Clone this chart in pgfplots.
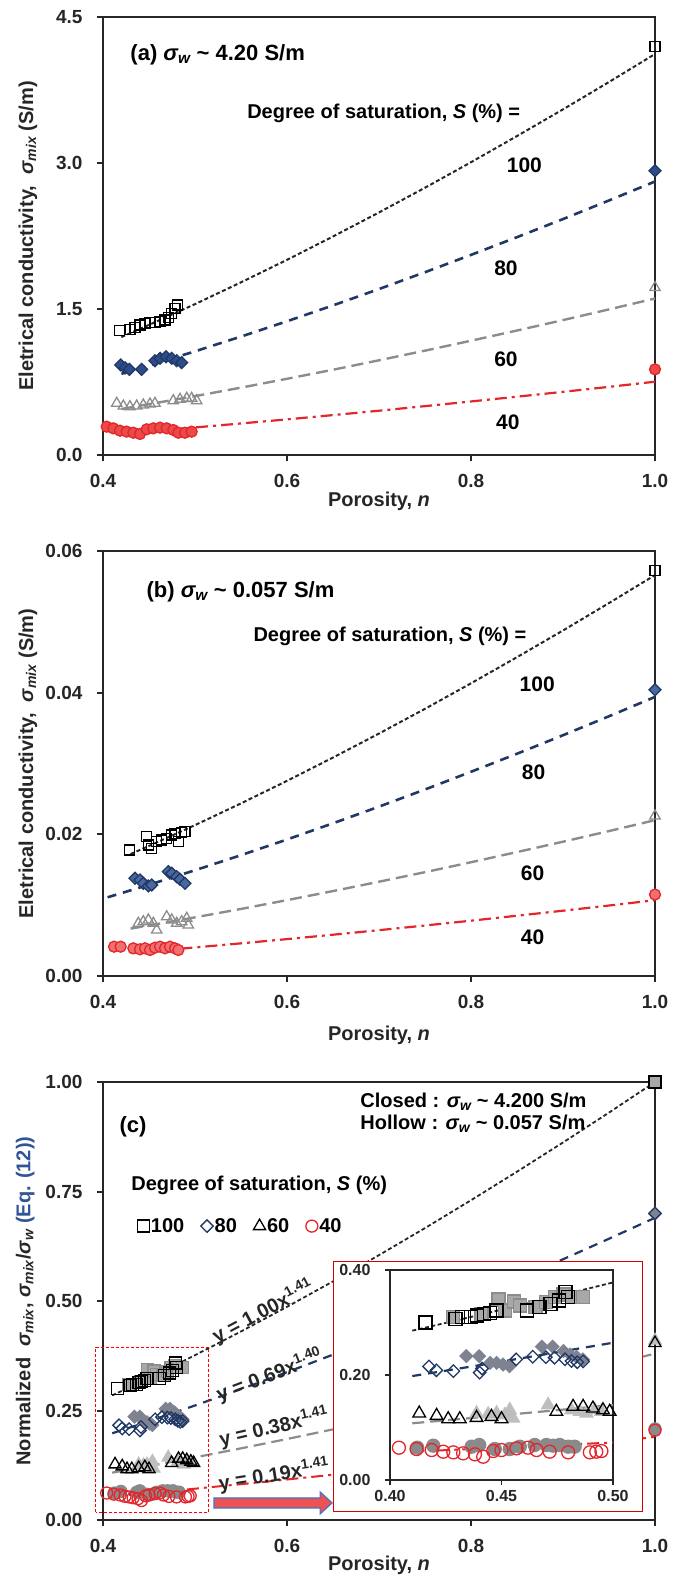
\documentclass[border=0pt]{standalone}
\usepackage{fontspec}
\setmainfont{Liberation Sans Bold}[ItalicFont={Liberation Sans Bold Italic},BoldFont={Liberation Sans Bold},BoldItalicFont={Liberation Sans Bold Italic}]
\usepackage{pgfplots}
\usepackage{pgfplotstable}
\pgfplotsset{compat=1.18}

\definecolor{axiscol}{HTML}{262626}
\definecolor{navy}{HTML}{1F3864}
\definecolor{navyfill}{HTML}{2F4C8A}
\definecolor{navylight}{HTML}{4A68A0}
\definecolor{grayline}{HTML}{8C8C8C}
\definecolor{redline}{HTML}{E3262B}
\definecolor{redfill}{HTML}{EC4A4A}
\definecolor{redlight}{HTML}{F07070}
\definecolor{closedsq}{HTML}{A8A8A8}
\definecolor{closeddia}{HTML}{7F8290}
\definecolor{closedtri}{HTML}{BEBEBE}
\definecolor{closedcirc}{HTML}{8A8A8A}
\definecolor{arrowred}{HTML}{EE5252}
\definecolor{arrowblue}{HTML}{4472C4}
\definecolor{eqblue}{HTML}{2F5597}

\newcommand{\sig}[1]{{\itshape σ\textsubscript{#1}}}

% ---------- (a) sigma_w ~ 4.20 S/m ----------
\pgfplotstableread{
n s
0.4177 1.277
0.4293 1.291
0.4348 1.312
0.4402 1.336
0.4457 1.353
0.4511 1.360
0.4565 1.360
0.4620 1.370
0.4674 1.387
0.4710 1.415
0.4747 1.456
0.4783 1.507
0.4808 1.541
1.0000 4.200
}\aHundred
\pgfplotstableread{
n s
0.4192 0.925
0.4240 0.895
0.4286 0.880
0.4420 0.880
0.4565 0.969
0.4620 0.993
0.4685 1.010
0.4747 0.993
0.4801 0.969
0.4855 0.949
1.0000 2.920
}\aEighty
\pgfplotstableread{
n s
0.4149 0.531
0.4221 0.503
0.4293 0.497
0.4366 0.503
0.4438 0.514
0.4511 0.524
0.4565 0.531
0.4764 0.558
0.4837 0.572
0.4910 0.582
0.4964 0.582
0.5018 0.558
1.0000 1.720
}\aSixty
\pgfplotstableread{
n s
0.4040 0.291
0.4112 0.274
0.4185 0.250
0.4257 0.240
0.4330 0.229
0.4402 0.216
0.4475 0.264
0.4547 0.274
0.4620 0.281
0.4692 0.274
0.4764 0.257
0.4819 0.229
0.4891 0.229
0.4964 0.240
1.0000 0.880
}\aForty
\pgfplotstableread{
n s
0.42 1.212
0.45 1.337
0.50 1.550
0.55 1.774
0.60 2.005
0.65 2.245
0.70 2.492
0.75 2.746
0.80 3.008
0.85 3.277
0.90 3.551
0.95 3.832
1.00 4.120
}\aFitHundred
\pgfplotstableread{
n s
0.42 0.834
0.45 0.919
0.50 1.065
0.55 1.217
0.60 1.374
0.65 1.537
0.70 1.705
0.75 1.878
0.80 2.056
0.85 2.238
0.90 2.424
0.95 2.615
1.00 2.810
}\aFitEighty
\pgfplotstableread{
n s
0.42 0.473
0.45 0.522
0.50 0.605
0.55 0.692
0.60 0.783
0.65 0.876
0.70 0.973
0.75 1.072
0.80 1.174
0.85 1.279
0.90 1.386
0.95 1.496
1.00 1.608
}\aFitSixty
\pgfplotstableread{
n s
0.42 0.222
0.45 0.244
0.50 0.283
0.55 0.324
0.60 0.366
0.65 0.410
0.70 0.455
0.75 0.502
0.80 0.550
0.85 0.599
0.90 0.649
0.95 0.700
1.00 0.753
}\aFitForty

% ---------- (b) sigma_w ~ 0.057 S/m ----------
\pgfplotstableread{
n s
0.4286 0.01779
0.4475 0.01967
0.4493 0.01849
0.4529 0.01802
0.4584 0.01896
0.4638 0.01920
0.4692 0.01944
0.4747 0.01991
0.4783 0.02014
0.4819 0.01896
0.4855 0.02024
0.4891 0.02038
1.0000 0.05720
}\bHundred
\pgfplotstableread{
n s
0.4348 0.01379
0.4402 0.01355
0.4438 0.01308
0.4493 0.01271
0.4529 0.01285
0.4710 0.01473
0.4747 0.01450
0.4801 0.01402
0.4837 0.01365
0.4891 0.01308
1.0000 0.04040
}\bEighty
\pgfplotstableread{
n s
0.4384 0.00744
0.4438 0.00767
0.4493 0.00791
0.4547 0.00744
0.4584 0.00649
0.4692 0.00837
0.4747 0.00791
0.4801 0.00744
0.4855 0.00767
0.4910 0.00814
0.4927 0.00720
1.0000 0.02260
}\bSixty
\pgfplotstableread{
n s
0.4120 0.00414
0.4192 0.00414
0.4330 0.00391
0.4402 0.00377
0.4457 0.00391
0.4511 0.00367
0.4565 0.00400
0.4620 0.00414
0.4674 0.00391
0.4728 0.00414
0.4783 0.00391
0.4819 0.00367
1.0000 0.01150
}\bForty
\pgfplotstableread{
n s
0.43 0.01722
0.45 0.01836
0.50 0.02130
0.55 0.02437
0.60 0.02755
0.65 0.03084
0.70 0.03423
0.75 0.03772
0.80 0.04132
0.85 0.04501
0.90 0.04878
0.95 0.05265
1.00 0.05660
}\bFitHundred
\pgfplotstableread{
n s
0.405 0.01111
0.45 0.01288
0.50 0.01493
0.55 0.01706
0.60 0.01927
0.65 0.02156
0.70 0.02391
0.75 0.02633
0.80 0.02883
0.85 0.03138
0.90 0.03399
0.95 0.03667
1.00 0.03940
}\bFitEighty
\pgfplotstableread{
n s
0.43 0.00669
0.45 0.00714
0.50 0.00828
0.55 0.00947
0.60 0.01071
0.65 0.01199
0.70 0.01331
0.75 0.01466
0.80 0.01606
0.85 0.01750
0.90 0.01896
0.95 0.02046
1.00 0.02200
}\bFitSixty
\pgfplotstableread{
n s
0.43 0.00325
0.45 0.00347
0.50 0.00403
0.55 0.00461
0.60 0.00521
0.65 0.00583
0.70 0.00647
0.75 0.00713
0.80 0.00781
0.85 0.00851
0.90 0.00922
0.95 0.00995
1.00 0.01070
}\bFitForty

% ---------- (c) normalized, closed = 4.200 S/m, hollow = 0.057 S/m ----------
\pgfplotstableread{
n s
0.4284 0.3100
0.4410 0.3164
0.4487 0.3441
0.4516 0.3228
0.4555 0.3402
0.4584 0.3325
0.4652 0.3293
0.4700 0.3389
0.4739 0.3486
0.4778 0.3531
0.4816 0.3486
0.4865 0.3486
1.0000 1.0000
}\cHundredClosed
\pgfplotstableread{
n s
0.4159 0.3003
0.4294 0.3068
0.4323 0.3100
0.4362 0.3100
0.4391 0.3132
0.4420 0.3164
0.4449 0.3183
0.4478 0.3228
0.4613 0.3228
0.4671 0.3293
0.4720 0.3357
0.4758 0.3421
0.4787 0.3582
0.4797 0.3486
1.0000 1.0000
}\cHundredOpen
\pgfplotstableread{
n s
0.4342 0.2360
0.4400 0.2360
0.4449 0.2232
0.4478 0.2232
0.4507 0.2199
0.4536 0.2167
0.4681 0.2540
0.4729 0.2540
0.4778 0.2457
0.4807 0.2392
0.4836 0.2347
0.4865 0.2296
1.0000 0.7000
}\cEightyClosed
\pgfplotstableread{
n s
0.4175 0.2163
0.4208 0.2090
0.4284 0.2074
0.4402 0.2045
0.4413 0.2124
0.4566 0.2298
0.4640 0.2348
0.4699 0.2339
0.4738 0.2329
0.4785 0.2300
0.4814 0.2266
0.4840 0.2243
0.4866 0.2259
1.0000 0.7000
}\cEightyOpen
\pgfplotstableread{
n s
0.4388 0.1270
0.4440 0.1251
0.4478 0.1270
0.4515 0.1238
0.4537 0.1333
0.4552 0.1175
0.4709 0.1429
0.4813 0.1333
0.4851 0.1302
0.4881 0.1270
0.4918 0.1333
0.4948 0.1302
1.0000 0.4100
}\cSixtyClosed
\pgfplotstableread{
n s
0.4131 0.1270
0.4209 0.1225
0.4261 0.1162
0.4313 0.1162
0.4388 0.1187
0.4455 0.1206
0.4500 0.1162
0.4746 0.1302
0.4821 0.1397
0.4866 0.1397
0.4910 0.1365
0.4955 0.1333
0.4985 0.1302
1.0000 0.4040
}\cSixtyOpen
\pgfplotstableread{
n s
0.4122 0.0616
0.4194 0.0654
0.4366 0.0635
0.4400 0.0667
0.4470 0.0590
0.4537 0.0590
0.4582 0.0635
0.4649 0.0667
0.4701 0.0667
0.4731 0.0654
0.4761 0.0667
0.4799 0.0635
0.4828 0.0635
1.0000 0.2080
}\cFortyClosed
\pgfplotstableread{
n s
0.4040 0.0616
0.4119 0.0590
0.4187 0.0571
0.4239 0.0540
0.4284 0.0527
0.4328 0.0508
0.4381 0.0489
0.4418 0.0444
0.4463 0.0552
0.4500 0.0571
0.4567 0.0603
0.4619 0.0616
0.4657 0.0571
0.4716 0.0540
0.4799 0.0527
0.4896 0.0527
0.4925 0.0540
0.4948 0.0552
1.0000 0.2050
}\cFortyOpen
\pgfplotstableread{
n s
0.41 0.2845
0.43 0.3042
0.45 0.3244
0.47 0.3449
0.50 0.3763
0.55 0.4305
0.60 0.4867
0.65 0.5448
0.70 0.6048
0.75 0.6665
0.80 0.7301
0.85 0.7953
0.90 0.8619
0.95 0.9302
1.00 1.0000
}\cFitHundred
\pgfplotstableread{
n s
0.41 0.1980
0.43 0.2117
0.45 0.2256
0.47 0.2398
0.50 0.2615
0.55 0.2988
0.60 0.3375
0.65 0.3775
0.70 0.4188
0.75 0.4612
0.80 0.5049
0.85 0.5496
0.90 0.5953
0.95 0.6422
1.00 0.6900
}\cFitEighty
\pgfplotstableread{
n s
0.41 0.1081
0.43 0.1156
0.45 0.1233
0.47 0.1311
0.50 0.1430
0.55 0.1636
0.60 0.1849
0.65 0.2070
0.70 0.2298
0.75 0.2533
0.80 0.2774
0.85 0.3022
0.90 0.3275
0.95 0.3535
1.00 0.3800
}\cFitSixty
\pgfplotstableread{
n s
0.41 0.0541
0.43 0.0578
0.45 0.0616
0.47 0.0655
0.50 0.0715
0.55 0.0818
0.60 0.0925
0.65 0.1035
0.70 0.1149
0.75 0.1266
0.80 0.1387
0.85 0.1511
0.90 0.1638
0.95 0.1767
1.00 0.1900
}\cFitForty

\pgfplotsset{
  panel/.style={
    scale only axis, width=552pt, clip=false,
    xmin=0.4, xmax=1.0, xtick={0.4,0.6,0.8,1.0},
    scaled x ticks=false, scaled y ticks=false,
    axis line style={line width=2.4pt, axiscol},
    major tick style={line width=2pt, axiscol},
    major tick length=6pt, tick align=outside,
    xtick pos=left, ytick pos=left,
    /pgf/number format/assume math mode=true,
    tick label style={font=\fontsize{19}{19}\selectfont, text=axiscol},
    xticklabel style={/pgf/number format/fixed, /pgf/number format/fixed zerofill, /pgf/number format/precision=1, yshift=-10pt},
    yticklabel style={xshift=-11pt},
    label style={font=\fontsize{20}{22}\selectfont, text=axiscol},
    xlabel={Porosity, {\itshape n}},
    ylabel style={anchor=center, at={(axis description cs:-0.136,0.5)}},
  },
  legmark/.style={legend image code/.code={\draw[mark repeat=2,mark phase=2,##1] plot coordinates {(0pt,0pt) (7pt,0pt) (14pt,0pt)};}},
  fit100/.style={axiscol, line width=2pt, dash pattern=on 4pt off 2.5pt, forget plot},
  fit80/.style={navy, line width=2.6pt, dash pattern=on 9pt off 7pt, forget plot},
  fit60/.style={grayline, line width=2.4pt, dash pattern=on 12pt off 6pt, forget plot},
  fit40/.style={redline, line width=2.2pt, dash pattern=on 12pt off 5pt on 3pt off 5pt, forget plot},
  % open (unfilled) markers: size, colour
  osq/.style 2 args={only marks, legmark, mark=square, mark size=#1, mark options={solid, draw=#2, line width=1.3pt}},
  odia/.style 2 args={only marks, legmark, mark=square, mark size=#1, mark options={solid, rotate=45, draw=#2, line width=1.3pt}},
  otri/.style 2 args={only marks, legmark, mark=triangle, mark size=#1, mark options={solid, draw=#2, line width=1.3pt}},
  ocirc/.style 2 args={only marks, legmark, mark=o, mark size=#1, mark options={solid, draw=#2, line width=1.3pt}},
  % filled markers: mark, size, fill, edge
  fmark/.style n args={4}{only marks, legmark, mark=#1, mark size=#2, mark options={solid, fill=#3, draw=#4, line width=1.3pt}},
  fdia/.style n args={3}{only marks, legmark, mark=square*, mark size=#1, mark options={solid, rotate=45, fill=#2, draw=#3, line width=1.3pt}},
}

\begin{document}
\begin{tikzpicture}
\useasboundingbox (0,0) rectangle (681pt,-1578pt);

% ===== panel (a) =====
\begin{axis}[panel, at={(103pt,-17pt)}, anchor=north west, height=438pt,
  ymin=0, ymax=4.5, ytick={0,1.5,3,4.5},
  yticklabel style={/pgf/number format/fixed, /pgf/number format/fixed zerofill, /pgf/number format/precision=1},
  ylabel={Eletrical conductivity,\hspace{0.55em}\sig{mix} (S/m)},
  xlabel style={anchor=center, at={(axis description cs:0.5,-0.106)}}]
\addplot[fit100] table {\aFitHundred};
\addplot[fit80] table {\aFitEighty};
\addplot[fit60] table {\aFitSixty};
\addplot[fit40] table {\aFitForty};
\addplot[osq={5pt}{black}] table {\aHundred};
\addplot[fdia={4.2pt}{navyfill}{navy}] table {\aEighty};
\addplot[otri={6pt}{grayline}] table {\aSixty};
\addplot[fmark={*}{5.5pt}{redfill}{redline}] table {\aForty};
\node[anchor=west, font=\fontsize{22}{22}\selectfont] at (axis cs:0.426,4.11) {(a) \sig{w} \textasciitilde{} 4.20 S/m};
\node[anchor=west, font=\fontsize{20}{20}\selectfont] at (axis cs:0.553,3.51) {Degree of saturation, {\itshape S} (\%) =};
\begin{scope}[every node/.style={font=\fontsize{21}{21}\selectfont}]
\node at (axis cs:0.858,2.98) {100};
\node at (axis cs:0.838,1.92) {80};
\node at (axis cs:0.838,0.98) {60};
\node at (axis cs:0.840,0.34) {40};
\end{scope}
\end{axis}

% ===== panel (b) =====
\begin{axis}[panel, at={(103pt,-551pt)}, anchor=north west, height=425pt,
  ymin=0, ymax=0.06, ytick={0,0.02,0.04,0.06},
  yticklabel style={/pgf/number format/fixed, /pgf/number format/fixed zerofill, /pgf/number format/precision=2},
  ylabel={Eletrical conductivity,\hspace{0.55em}\sig{mix} (S/m)},
  xlabel style={anchor=center, at={(axis description cs:0.5,-0.139)}}]
\addplot[fit100] table {\bFitHundred};
\addplot[fit80] table {\bFitEighty};
\addplot[fit60] table {\bFitSixty};
\addplot[fit40] table {\bFitForty};
\addplot[osq={5pt}{black}] table {\bHundred};
\addplot[fdia={4.2pt}{navylight}{navy}] table {\bEighty};
\addplot[otri={6pt}{grayline}] table {\bSixty};
\addplot[fmark={*}{5.5pt}{redlight}{redline}] table {\bForty};
\node[anchor=west, font=\fontsize{22}{22}\selectfont] at (axis cs:0.4435,0.0542) {(b) \sig{w} \textasciitilde{} 0.057 S/m};
\node[anchor=west, font=\fontsize{20}{20}\selectfont] at (axis cs:0.5598,0.0480) {Degree of saturation, {\itshape S} (\%) =};
\begin{scope}[every node/.style={font=\fontsize{21}{21}\selectfont}]
\node at (axis cs:0.872,0.0412) {100};
\node at (axis cs:0.868,0.0288) {80};
\node at (axis cs:0.867,0.01454) {60};
\node at (axis cs:0.867,0.0055) {40};
\end{scope}
\end{axis}

% ===== panel (c) =====
\begin{axis}[panel, at={(103pt,-1082pt)}, anchor=north west, height=438pt,
  ymin=0, ymax=1, ytick={0,0.25,0.5,0.75,1},
  yticklabel style={/pgf/number format/fixed, /pgf/number format/fixed zerofill, /pgf/number format/precision=2},
  ylabel={Normalized\hspace{0.55em}\sig{mix}, \sig{mix}/\sig{w} \textcolor{eqblue}{(Eq. (12))}},
  ylabel style={at={(axis description cs:-0.141,0.5)}},
  xlabel style={anchor=center, at={(axis description cs:0.5,-0.103)}},
  legend style={draw=none, fill=none, at={(axis description cs:0.062,0.671)}, anchor=west,
    font=\fontsize{20}{20}\selectfont, /tikz/every even column/.append style={column sep=15pt},
    inner sep=0pt, nodes={inner sep=1.5pt}},
  legend columns=4]
\addplot[fmark={square*}{6pt}{closedsq}{grayline}, forget plot] table {\cHundredClosed};
\addplot[fdia={4.4pt}{closeddia}{closeddia}, forget plot] table {\cEightyClosed};
\addplot[fmark={triangle*}{7pt}{closedtri}{closedtri}, forget plot] table {\cSixtyClosed};
\addplot[fmark={*}{6pt}{closedcirc}{closedcirc}, forget plot] table {\cFortyClosed};
\addplot[osq={6pt}{black}] table {\cHundredOpen};
\addlegendentry{100}
\addplot[odia={4.4pt}{navy}] table {\cEightyOpen};
\addlegendentry{80}
\addplot[otri={7pt}{black}] table {\cSixtyOpen};
\addlegendentry{60}
\addplot[ocirc={6pt}{redline}] table {\cFortyOpen};
\addlegendentry{40}
\addplot[fit100, line width=1.8pt] table {\cFitHundred};
\addplot[fit80, line width=2.2pt] table {\cFitEighty};
\addplot[fit60, line width=2.2pt] table {\cFitSixty};
\addplot[fit40, line width=2pt] table {\cFitForty};
% zoom window, inset frame and arrow
\draw[red, line width=1pt, dash pattern=on 3pt off 2pt] (axis cs:0.392,0.018) rectangle (axis cs:0.515,0.395);
\draw[red!85!black, line width=1pt, fill=white] (axis cs:0.651,0.0205) rectangle (axis cs:0.986,0.591);
\draw[arrowblue, line width=1.2pt, fill=arrowred]
  (axis cs:0.5207,0.0276) -- (axis cs:0.636,0.0276) -- (axis cs:0.636,0.0140) -- (axis cs:0.649,0.039)
  -- (axis cs:0.636,0.064) -- (axis cs:0.636,0.0504) -- (axis cs:0.5207,0.0504) -- cycle;
\node[font=\fontsize{22}{22}\selectfont] at (axis cs:0.4326,0.897) {(c)};
\node[anchor=west, font=\fontsize{20}{20}\selectfont] at (axis cs:0.676,0.954) {Closed : \sig{w} \textasciitilde{} 4.200 S/m};
\node[anchor=west, font=\fontsize{20}{20}\selectfont] at (axis cs:0.676,0.904) {Hollow : \sig{w} \textasciitilde{} 0.057 S/m};
\node[anchor=west, font=\fontsize{20}{20}\selectfont] at (axis cs:0.427,0.765) {Degree of saturation, {\itshape S} (\%)};
\begin{scope}[every node/.style={font=\fontsize{20}{20}\selectfont, text=axiscol}]
\node[rotate=28] at (axis cs:0.574,0.476) {y = 1.00x\textsuperscript{1.41}};
\node[rotate=21] at (axis cs:0.581,0.331) {y = 0.69x\textsuperscript{1.40}};
\node[rotate=13] at (axis cs:0.586,0.212) {y = 0.38x\textsuperscript{1.41}};
\node[rotate=9] at (axis cs:0.586,0.103) {y = 0.19x\textsuperscript{1.41}};
\end{scope}
\end{axis}

% ===== inset: 0.40 <= n <= 0.50 =====
\begin{axis}[at={(390pt,-1480pt)}, anchor=south west, scale only axis, width=223pt, height=210pt,
  xmin=0.40, xmax=0.50, ymin=0, ymax=0.40,
  xtick={0.40,0.45,0.50}, ytick={0,0.2,0.4},
  scaled x ticks=false, scaled y ticks=false,
  axis line style={line width=2pt, axiscol},
  major tick style={line width=1.8pt, axiscol},
  major tick length=5pt, tick align=outside,
  xtick pos=left, ytick pos=left,
  /pgf/number format/assume math mode=true,
  tick label style={font=\fontsize{16}{16}\selectfont, text=axiscol},
  xticklabel style={/pgf/number format/fixed, /pgf/number format/fixed zerofill, /pgf/number format/precision=2, yshift=-2pt},
  yticklabel style={/pgf/number format/fixed, /pgf/number format/fixed zerofill, /pgf/number format/precision=2, xshift=-11pt}]
\addplot[fmark={square*}{6.5pt}{closedsq}{grayline}] table {\cHundredClosed};
\addplot[fdia={4.4pt}{closeddia}{closeddia}] table {\cEightyClosed};
\addplot[fmark={triangle*}{7.3pt}{closedtri}{closedtri}] table {\cSixtyClosed};
\addplot[fmark={*}{6.5pt}{closedcirc}{closedcirc}] table {\cFortyClosed};
\addplot[osq={6.5pt}{black}] table {\cHundredOpen};
\addplot[odia={4.4pt}{navy}] table {\cEightyOpen};
\addplot[otri={7.3pt}{black}] table {\cSixtyOpen};
\addplot[ocirc={6.5pt}{redline}] table {\cFortyOpen};
\addplot[fit100, line width=1.8pt] table {\cFitHundred};
\addplot[fit80, line width=2.2pt] table {\cFitEighty};
\addplot[fit60, line width=2.2pt] table {\cFitSixty};
\addplot[fit40, line width=2pt] table {\cFitForty};
\end{axis}
\end{tikzpicture}
\end{document}
